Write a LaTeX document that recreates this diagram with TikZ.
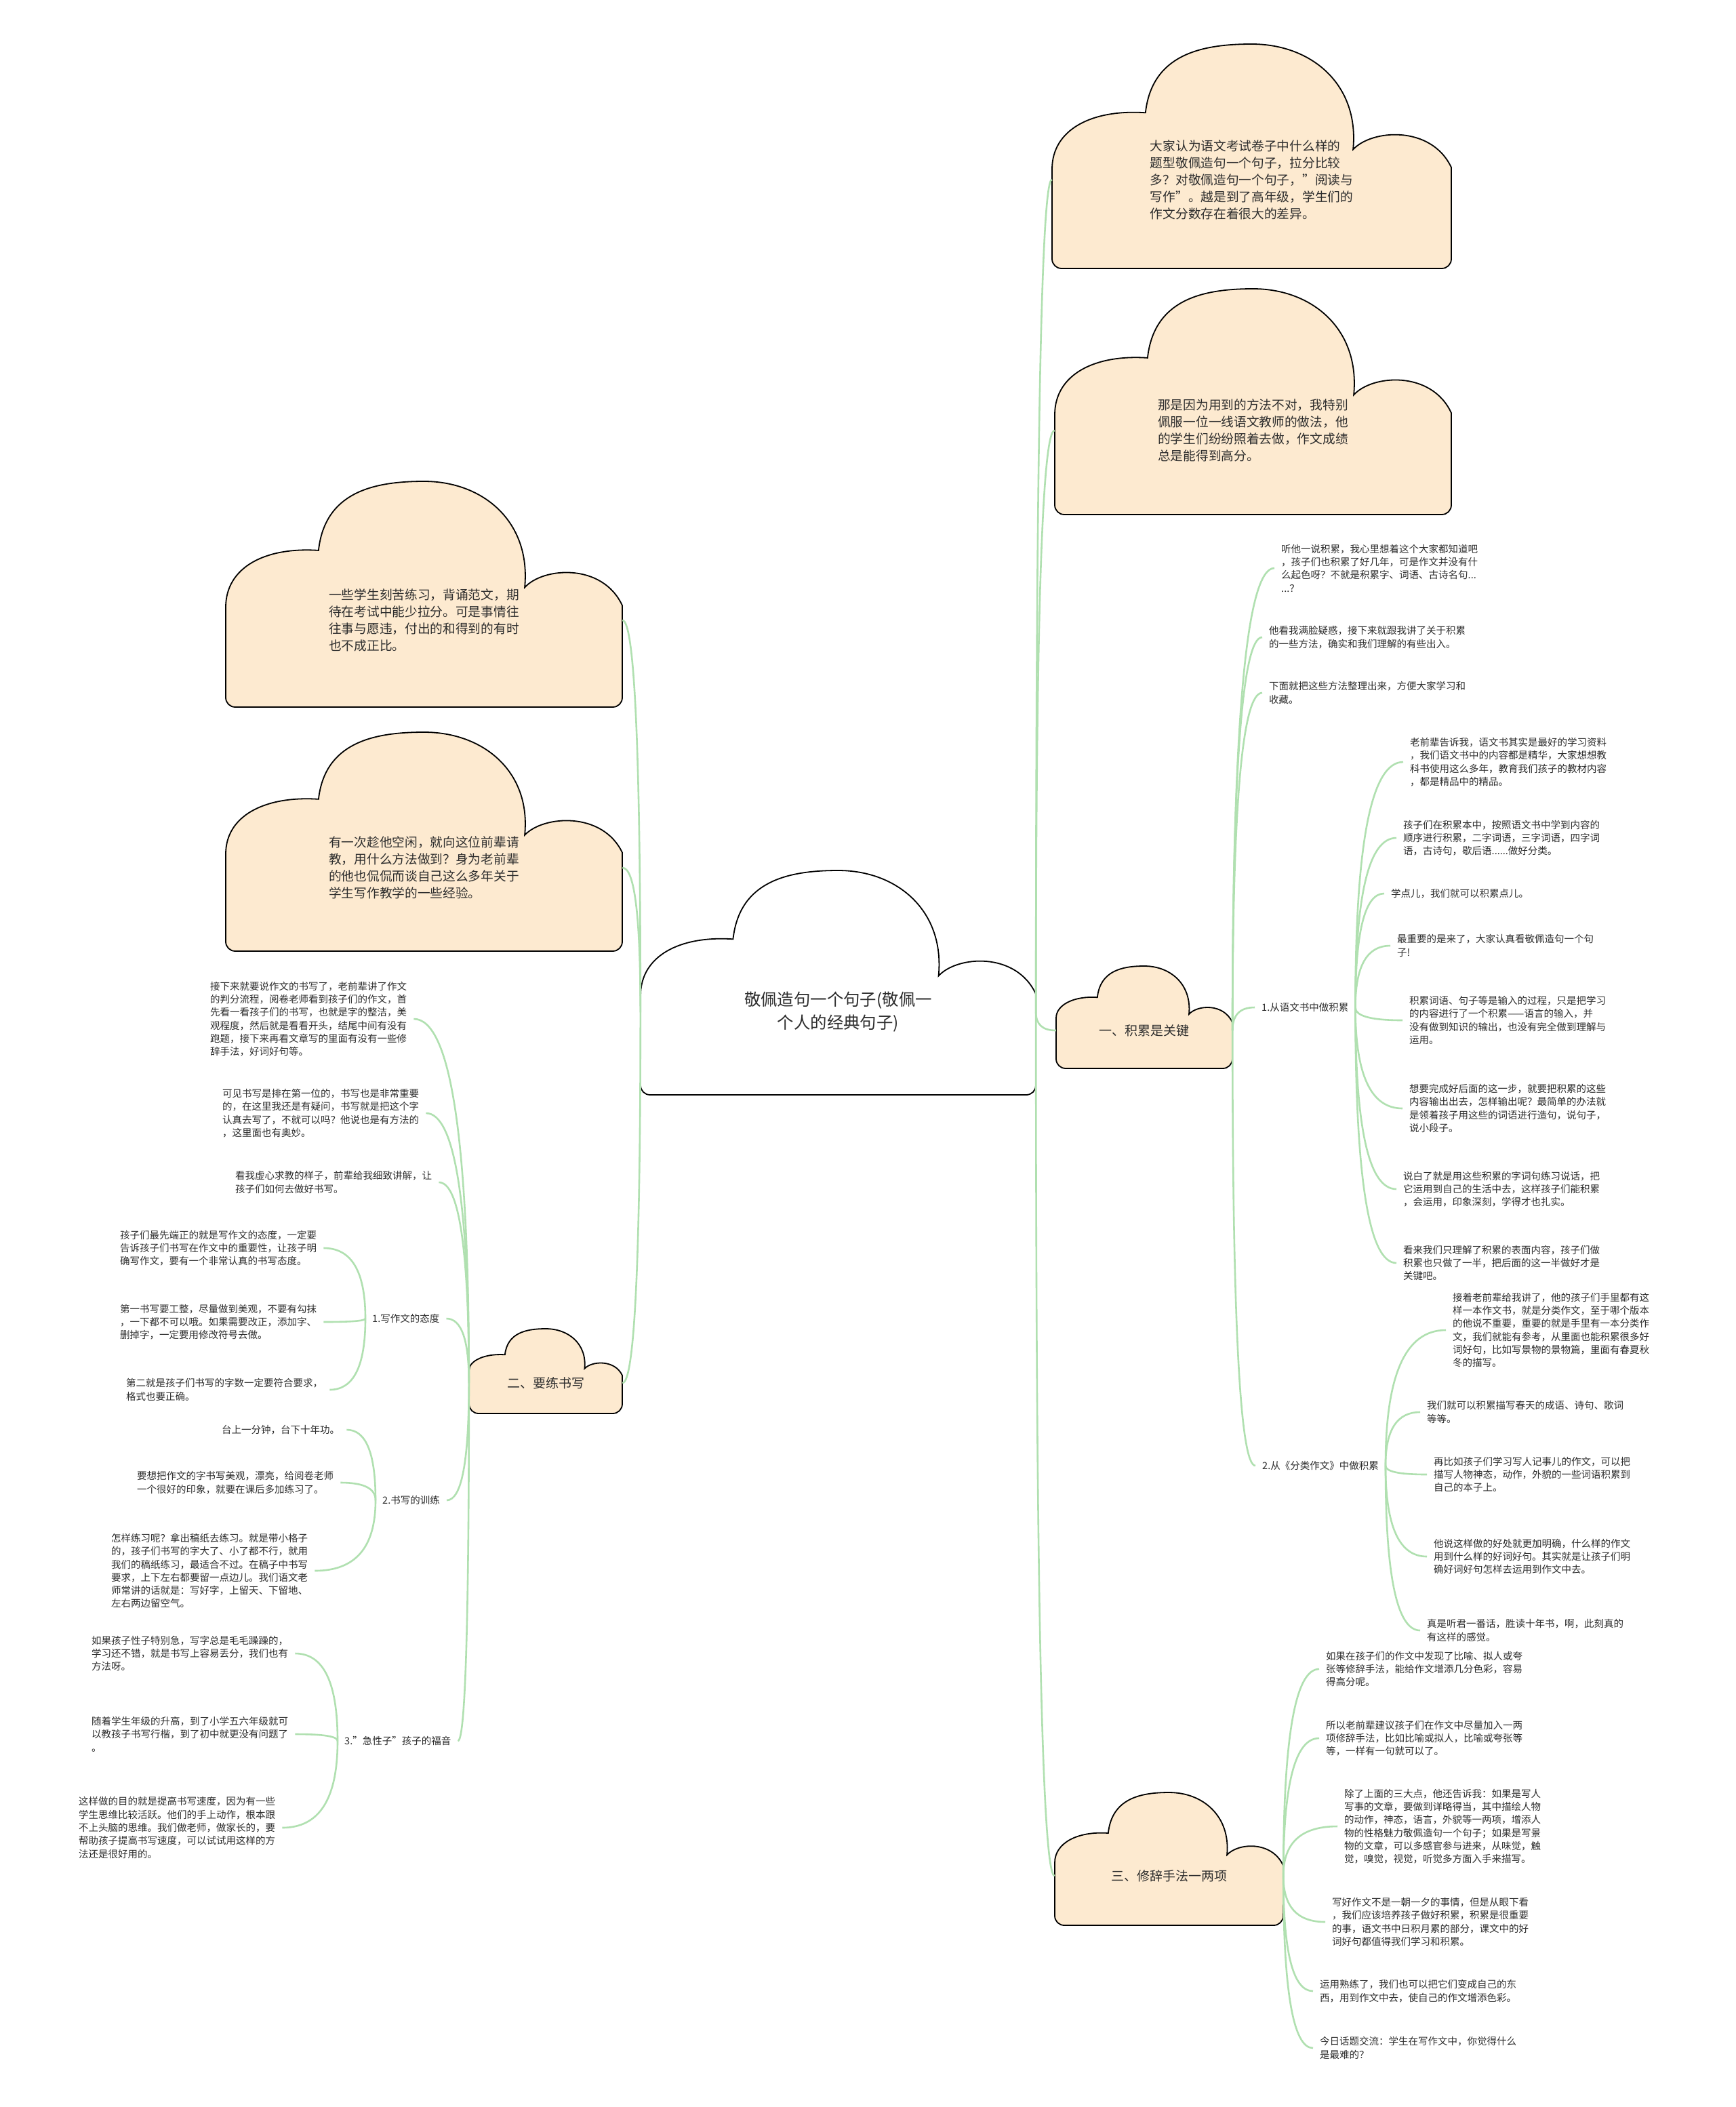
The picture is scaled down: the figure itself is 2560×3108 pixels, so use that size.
\documentclass[tikz,border=0pt]{standalone}
\usepackage{fontspec}
\setmainfont{Noto Sans CJK SC}
\usetikzlibrary{calc}

\definecolor{peach}{RGB}{253,234,208}
\definecolor{stemgreen}{RGB}{176,224,176}
\definecolor{ink}{RGB}{45,45,45}

\newcommand{\dq}{\symbol{34}}

% cloud outline: left x, top y, width, height, fill
\newcommand{\cloud}[5]{%
  \begin{scope}[shift={(#1,#2+#4)}, x=#3pt, y=#4pt]
    \filldraw[fill=#5, draw=black, line width=1.8pt] (0,0.4)
      .. controls (0,0.62) and (0.1,0.71) .. (0.234,0.694)
      .. controls (0.25,0.95) and (0.37,1) .. (0.5,1)
      .. controls (0.65,1) and (0.77,0.82) .. (0.754,0.53)
      .. controls (0.8,0.62) and (0.95,0.64) .. (1,0.45)
      [rounded corners=14pt] -- (1,0) -- (0,0) -- cycle;
  \end{scope}}

\begin{document}
\begin{tikzpicture}[
  x=1pt, y=-1pt,
  every node/.style = {text=ink, inner ysep=2pt},
  leaf/.style = {anchor=west, align=left, inner xsep=10pt, font=\fontsize{14.5}{19.3}\selectfont},
  cloudtxt/.style = {align=left, font=\fontsize{18.7}{25}\selectfont},
  topic/.style = {align=center, font=\fontsize{24.4}{34}\selectfont},
  branch/.style = {font=\fontsize{19}{24}\selectfont},
  stem/.style = {draw=stemgreen, line width=2.6pt,
    to path={.. controls ($(\tikztostart)!0.67!(\tikztostart |- \tikztotarget)$)
      and ($(\tikztotarget)!0.67!(\tikztostart |- \tikztotarget)$) .. (\tikztotarget) \tikztonodes}}
]
  \fill[white] (0,0) rectangle (2560,3108);
  \useasboundingbox (0,0) rectangle (2560,3108);

  \cloud{1552}{65}{589}{331}{peach}
  \cloud{1556}{426}{585}{333}{peach}
  \cloud{333}{710}{585}{333}{peach}
  \cloud{333}{1080}{585}{323}{peach}
  \cloud{945}{1284}{583}{331}{white}
  \cloud{1558}{1425}{260}{151}{peach}
  \cloud{692}{1960}{226}{125}{peach}
  \cloud{1556}{2644}{337}{196}{peach}

  \node[topic, minimum width=583pt] (ctr) at (1236.5,1493) {敬佩造句一个句子(敬佩一\\个人的经典句子)};

  \node[cloudtxt, minimum width=589pt] (tr1) at (1846.5,265) {大家认为语文考试卷子中什么样的\\题型敬佩造句一个句子，拉分比较\\多？对敬佩造句一个句子，\dq 阅读与\\写作\dq 。越是到了高年级，学生们的\\作文分数存在着很大的差异。};
  \node[cloudtxt, minimum width=585pt] (tr2) at (1848.5,635) {那是因为用到的方法不对，我特别\\佩服一位一线语文教师的做法，他\\的学生们纷纷照着去做，作文成绩\\总是能得到高分。};
  \node[cloudtxt, minimum width=585pt] (l1) at (625.5,915) {一些学生刻苦练习，背诵范文，期\\待在考试中能少拉分。可是事情往\\往事与愿违，付出的和得到的有时\\也不成正比。};
  \node[cloudtxt, minimum width=585pt] (l2) at (625.5,1280) {有一次趁他空闲，就向这位前辈请\\教，用什么方法做到？身为老前辈\\的他也侃侃而谈自己这么多年关于\\学生写作教学的一些经验。};

  \node[branch, minimum width=260pt] (b1) at (1688,1520) {一、积累是关键};
  \node[branch, minimum width=226pt] (b2) at (805,2040) {二、要练书写};
  \node[branch, minimum width=337pt] (b3) at (1724.5,2767) {三、修辞手法一两项};

  % 一
  \node[leaf] (r1) at (1880,838) {听他一说积累，我心里想着这个大家都知道吧\\，孩子们也积累了好几年，可是作文并没有什\\么起色呀？不就是积累字、词语、古诗名句...\\...？};
  \node[leaf] (r2) at (1862,940) {他看我满脸疑惑，接下来就跟我讲了关于积累\\的一些方法，确实和我们理解的有些出入。};
  \node[leaf] (r3) at (1862,1022) {下面就把这些方法整理出来，方便大家学习和\\收藏。};
  \node[leaf] (s1) at (1851,1486) {1.从语文书中做积累};
  \node[leaf] (s2) at (1852,2162) {2.从《分类作文》中做积累};

  \node[leaf] (a1) at (2070,1124) {老前辈告诉我，语文书其实是最好的学习资料\\，我们语文书中的内容都是精华，大家想想教\\科书使用这么多年，教育我们孩子的教材内容\\，都是精品中的精品。};
  \node[leaf] (a2) at (2060,1236) {孩子们在积累本中，按照语文书中学到内容的\\顺序进行积累，二字词语，三字词语，四字词\\语，古诗句，歇后语......做好分类。};
  \node[leaf] (a3) at (2042,1318) {学点儿，我们就可以积累点儿。};
  \node[leaf] (a4) at (2051,1395) {最重要的是来了，大家认真看敬佩造句一个句\\子!};
  \node[leaf] (a5) at (2069,1505) {积累词语、句子等是输入的过程，只是把学习\\的内容进行了一个积累——语言的输入，并\\没有做到知识的输出，也没有完全做到理解与\\运用。};
  \node[leaf] (a6) at (2069,1635) {想要完成好后面的这一步，就要把积累的这些\\内容输出出去，怎样输出呢？最简单的办法就\\是领着孩子用这些的词语进行造句，说句子，\\说小段子。};
  \node[leaf] (a7) at (2060,1754) {说白了就是用这些积累的字词句练习说话，把\\它运用到自己的生活中去，这样孩子们能积累\\，会运用，印象深刻，学得才也扎实。};
  \node[leaf] (a8) at (2060,1863) {看来我们只理解了积累的表面内容，孩子们做\\积累也只做了一半，把后面的这一半做好才是\\关键吧。};

  \node[leaf] (c1) at (2133,1962) {接着老前辈给我讲了，他的孩子们手里都有这\\样一本作文书，就是分类作文，至于哪个版本\\的他说不重要，重要的就是手里有一本分类作\\文，我们就能有参考，从里面也能积累很多好\\词好句，比如写景物的景物篇，里面有春夏秋\\冬的描写。};
  \node[leaf] (c2) at (2095,2083) {我们就可以积累描写春天的成语、诗句、歌词\\等等。};
  \node[leaf] (c3) at (2105,2175) {再比如孩子们学习写人记事儿的作文，可以把\\描写人物神态，动作，外貌的一些词语积累到\\自己的本子上。};
  \node[leaf] (c4) at (2105,2296) {他说这样做的好处就更加明确，什么样的作文\\用到什么样的好词好句。其实就是让孩子们明\\确好词好句怎样去运用到作文中去。};
  \node[leaf] (c5) at (2095,2405) {真是听君一番话，胜读十年书，啊，此刻真的\\有这样的感觉。};

  % 三
  \node[leaf] (d1) at (1946,2462) {如果在孩子们的作文中发现了比喻、拟人或夸\\张等修辞手法，能给作文增添几分色彩，容易\\得高分呢。};
  \node[leaf] (d2) at (1946,2564) {所以老前辈建议孩子们在作文中尽量加入一两\\项修辞手法，比如比喻或拟人，比喻或夸张等\\等，一样有一句就可以了。};
  \node[leaf] (d3) at (1973,2694) {除了上面的三大点，他还告诉我：如果是写人\\写事的文章，要做到详略得当，其中描绘人物\\的动作，神态，语言，外貌等一两项，增添人\\物的性格魅力敬佩造句一个句子；如果是写景\\物的文章，可以多感官参与进来，从味觉，触\\觉，嗅觉，视觉，听觉多方面入手来描写。};
  \node[leaf] (d4) at (1955,2835) {写好作文不是一朝一夕的事情，但是从眼下看\\，我们应该培养孩子做好积累，积累是很重要\\的事，语文书中日积月累的部分，课文中的好\\词好句都值得我们学习和积累。};
  \node[leaf] (d5) at (1937,2937) {运用熟练了，我们也可以把它们变成自己的东\\西，用到作文中去，使自己的作文增添色彩。};
  \node[leaf] (d6) at (1937,3021) {今日话题交流：学生在写作文中，你觉得什么\\是最难的？};

  % 二
  \node[leaf] (e1) at (300,1503) {接下来就要说作文的书写了，老前辈讲了作文\\的判分流程，阅卷老师看到孩子们的作文，首\\先看一看孩子们的书写，也就是字的整洁，美\\观程度，然后就是看看开头，结尾中间有没有\\跑题，接下来再看文章写的里面有没有一些修\\辞手法，好词好句等。};
  \node[leaf] (e2) at (318,1642) {可见书写是排在第一位的，书写也是非常重要\\的，在这里我还是有疑问，书写就是把这个字\\认真去写了，不就可以吗？他说也是有方法的\\，这里面也有奥妙。};
  \node[leaf] (e3) at (337,1744) {看我虚心求教的样子，前辈给我细致讲解，让\\孩子们如何去做好书写。};
  \node[leaf] (t1) at (539,1945) {1.写作文的态度};
  \node[leaf] (t2) at (554,2213) {2.书写的训练};
  \node[leaf] (t3) at (498,2568) {3.\dq 急性子\dq 孩子的福音};

  \node[leaf] (f1) at (167,1841) {孩子们最先端正的就是写作文的态度，一定要\\告诉孩子们书写在作文中的重要性，让孩子明\\确写作文，要有一个非常认真的书写态度。};
  \node[leaf] (f2) at (167,1950) {第一书写要工整，尽量做到美观，不要有勾抹\\，一下都不可以哦。如果需要改正，添加字、\\删掉字，一定要用修改符号去做。};
  \node[leaf] (f3) at (176,2050) {第二就是孩子们书写的字数一定要符合要求，\\格式也要正确。};

  \node[leaf] (g1) at (317,2109) {台上一分钟，台下十年功。};
  \node[leaf] (g2) at (192,2187) {要想把作文的字书写美观，漂亮，给阅卷老师\\一个很好的印象，就要在课后多加练习了。};
  \node[leaf] (g3) at (154,2317) {怎样练习呢？拿出稿纸去练习。就是带小格子\\的，孩子们书写的字大了、小了都不行，就用\\我们的稿纸练习，最适合不过。在稿子中书写\\要求，上下左右都要留一点边儿。我们语文老\\师常讲的话就是：写好字，上留天、下留地、\\左右两边留空气。};

  \node[leaf] (h1) at (125,2439) {如果孩子性子特别急，写字总是毛毛躁躁的，\\学习还不错，就是书写上容易丢分，我们也有\\方法呀。};
  \node[leaf] (h2) at (125,2558) {随着学生年级的升高，到了小学五六年级就可\\以教孩子书写行楷，到了初中就更没有问题了\\。};
  \node[leaf] (h3) at (106,2696) {这样做的目的就是提高书写速度，因为有一些\\学生思维比较活跃。他们的手上动作，根本跟\\不上头脑的思维。我们做老师，做家长的，要\\帮助孩子提高书写速度，可以试试用这样的方\\法还是很好用的。};

  \foreach \n in {tr1,tr2,b1,b3} \draw[stem] (ctr.east) to (\n.west);
  \foreach \n in {l1,l2,b2} \draw[stem] (ctr.west) to (\n.east);
  \foreach \n in {r1,r2,r3,s1,s2} \draw[stem] (b1.east) to (\n.west);
  \foreach \i in {1,...,8} \draw[stem] (s1.east) to (a\i.west);
  \foreach \i in {1,...,5} \draw[stem] (s2.east) to (c\i.west);
  \foreach \i in {1,...,6} \draw[stem] (b3.east) to (d\i.west);
  \foreach \n in {e1,e2,e3,t1,t2,t3} \draw[stem] (b2.west) to (\n.east);
  \foreach \i in {1,2,3} {
    \draw[stem] (t1.west) to (f\i.east);
    \draw[stem] (t2.west) to (g\i.east);
    \draw[stem] (t3.west) to (h\i.east);
  }
\end{tikzpicture}
\end{document}
